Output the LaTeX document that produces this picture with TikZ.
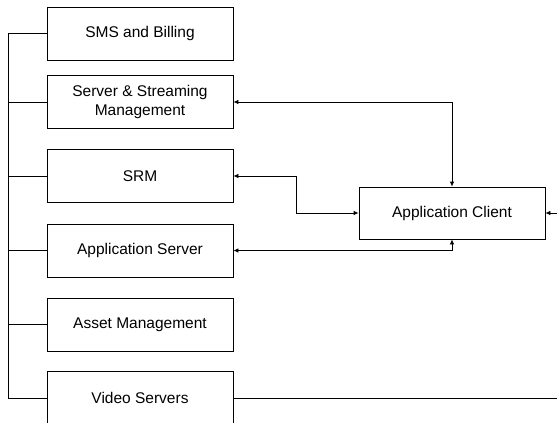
\documentclass[tikz,border=0pt]{standalone}
\usepackage{fontspec}
\setmainfont{Liberation Sans}
\usetikzlibrary{arrows.meta, positioning}

\begin{document}
\begin{tikzpicture}[x=1pt, y=-1pt,
            block/.style={draw, line width=0.8pt, minimum width=186pt, minimum height=53pt,
                inner sep=0pt, align=center, font=\fontsize{15.5}{19}\selectfont},
            wire/.style={line width=0.8pt},
            link/.style={wire, {Latex[length=5pt,width=4.5pt]}-{Latex[length=5pt,width=4.5pt]}}]
            \useasboundingbox (0,0) rectangle (557,423);
            % left column
            \draw (140,33.5) node[block] (sms) {SMS and Billing};
            \draw (140,102) node[block] (ssm) {Server \& Streaming\\Management};
            \draw (140,176) node[block] (srm) {SRM};
            \draw (140,250.5) node[block] (appsrv) {Application Server};
            \draw (140,324.5) node[block] (asset) {Asset Management};
            \draw (140,398) node[block] (video) {Video Servers};
            % client on the right
            \draw (452,213) node[block, minimum height=52pt] (client) {Application Client};
            \coordinate (bus) at (8,0);
            \coordinate (knee) at (296,0);
            \coordinate (edge) at (557,0);
            % bus
            \draw[wire] (sms.west) -| (bus |- video.west) -- (video.west);
            \foreach \n in {ssm,srm,appsrv,asset}
                \draw[wire] (\n.west) -- (bus |- \n.west);
            % links to the client
            \draw[link] (ssm.east) -| (client.north);
            \draw[link] (srm.east) -| (knee |- client.west) -- (client.west);
            \draw[link] (appsrv.east) -| (client.south);
            \draw[wire, -{Latex[length=5pt,width=4.5pt]}] (edge |- client.east) -- (client.east);
            \draw[wire] (video.east) -- (edge |- video.east);
        \end{tikzpicture}
\end{document}
